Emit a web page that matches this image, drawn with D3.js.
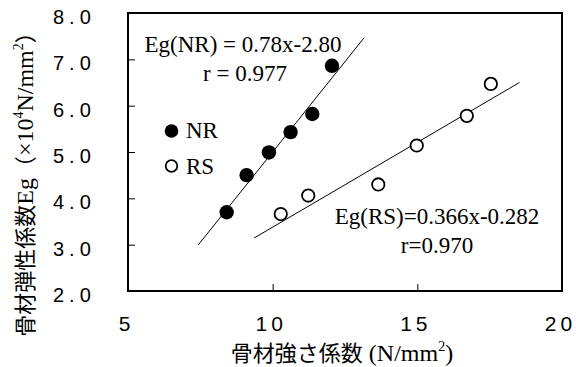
<!DOCTYPE html>
<html><head><meta charset="utf-8">
<script src="https://cdn.jsdelivr.net/npm/d3@7"></script>
<style>
html,body{margin:0;padding:0;background:#fff;}
svg{display:block;}
</style></head>
<body>
<script>
// ---- data ----
const nrX = [8.41, 9.10, 9.87, 10.62, 11.37, 12.05];
const nrY = [3.70, 4.50, 4.99, 5.43, 5.82, 6.86];
const rsX = [10.28, 11.23, 13.65, 14.98, 16.71, 17.54];
const rsY = [3.66, 4.06, 4.30, 5.14, 5.78, 6.47];
const fitNames = ["NR", "RS"];
const fitSlopes = [0.78, 0.366];
const fitIntercepts = [-2.80, -0.282];
const fitXStart = [7.43, 9.36];
const fitXEnd = [13.16, 18.53];
const xTicks = [5, 10, 15, 20];
const yTicks = [2, 3, 4, 5, 6, 7, 8];
const eqLabels = ["Eg(NR) = 0.78x-2.80", "Eg(RS)=0.366x-0.282"];
const rLabels = ["r = 0.977", "r=0.970"];
const legendLabels = ["NR", "RS"];

const W = 576, H = 367;
const svg = d3.select("body").append("svg").attr("width", W).attr("height", H);
const x = d3.scaleLinear().domain([5, 20]).range([128, 562]);
const y = d3.scaleLinear().domain([2, 8]).range([291, 13]);

const sans = "'Liberation Sans', Arial, sans-serif";
const serif = "'Liberation Serif', 'Times New Roman', serif";
const cjk = "'Noto Sans CJK JP', sans-serif";

// axes
const xAxis = d3.axisBottom(x).tickValues(xTicks).tickSize(-7).tickPadding(25).tickFormat(d3.format("d"));
const gx = svg.append("g").attr("transform", `translate(0,${y(2)})`).call(xAxis);
gx.select(".domain").remove();
gx.selectAll("line").attr("stroke", "#000").attr("stroke-width", 1);
gx.selectAll("text").attr("font-family", sans).attr("font-size", 21).attr("fill", "#000")
  .attr("letter-spacing", "4px").attr("dx", -2);

const yAxis = d3.axisLeft(y).tickValues(yTicks).tickSize(-7).tickFormat("");
const gy = svg.append("g").attr("transform", `translate(${x(5)},0)`).call(yAxis);
gy.select(".domain").remove();
gy.selectAll("line").attr("stroke", "#000").attr("stroke-width", 1);
svg.append("g").selectAll("text").data(yTicks).join("text")
  .attr("x", 53).attr("y", d => y(d) + 11)
  .attr("font-family", sans).attr("font-size", 20).attr("letter-spacing", "5px")
  .text(d => d3.format(".1f")(d));

// frame
svg.append("rect").attr("x", x(5)).attr("y", y(8)).attr("width", x(20) - x(5)).attr("height", y(2) - y(8))
  .attr("fill", "none").attr("stroke", "#000").attr("stroke-width", 2);

// fit lines
fitNames.forEach((n, i) => {
  const f = v => fitSlopes[i] * v + fitIntercepts[i];
  svg.append("line")
    .attr("x1", x(fitXStart[i])).attr("y1", y(f(fitXStart[i])))
    .attr("x2", x(fitXEnd[i])).attr("y2", y(f(fitXEnd[i])))
    .attr("stroke", "#000").attr("stroke-width", 1);
});

// points
svg.append("g").selectAll("circle").data(nrX.map((v, i) => [v, nrY[i]])).join("circle")
  .attr("cx", d => x(d[0])).attr("cy", d => y(d[1])).attr("r", 7.2).attr("fill", "#000");
svg.append("g").selectAll("circle").data(rsX.map((v, i) => [v, rsY[i]])).join("circle")
  .attr("cx", d => x(d[0])).attr("cy", d => y(d[1])).attr("r", 6.2)
  .attr("fill", "#fff").attr("stroke", "#000").attr("stroke-width", 1.8);

// legend
svg.append("circle").attr("cx", 171.5).attr("cy", 131).attr("r", 6.8).attr("fill", "#000");
svg.append("circle").attr("cx", 171.5).attr("cy", 166).attr("r", 5.8).attr("fill", "#fff")
  .attr("stroke", "#000").attr("stroke-width", 1.8);
svg.append("text").attr("x", 186).attr("y", 138).attr("font-family", serif).attr("font-size", 23).text(legendLabels[0]);
svg.append("text").attr("x", 186).attr("y", 174).attr("font-family", serif).attr("font-size", 23).text(legendLabels[1]);

// equations
svg.append("text").attr("x", 243).attr("y", 52).attr("text-anchor", "middle").attr("font-family", serif).attr("font-size", 23).text(eqLabels[0]);
svg.append("text").attr("x", 245).attr("y", 81).attr("text-anchor", "middle").attr("font-family", serif).attr("font-size", 23).text(rLabels[0]);
svg.append("text").attr("x", 437).attr("y", 224).attr("text-anchor", "middle").attr("font-family", serif).attr("font-size", 23).text(eqLabels[1]);
svg.append("text").attr("x", 437).attr("y", 253).attr("text-anchor", "middle").attr("font-family", serif).attr("font-size", 23).text(rLabels[1]);

// x title
const xt = svg.append("text").attr("x", 342).attr("y", 361).attr("text-anchor", "middle");
xt.append("tspan").attr("font-family", cjk).attr("font-size", 22).text("骨材強さ係数");
xt.append("tspan").attr("font-family", serif).attr("font-size", 24).text(" (N/mm");
xt.append("tspan").attr("font-family", serif).attr("font-size", 14).attr("dy", -10).text("2");
xt.append("tspan").attr("font-family", serif).attr("font-size", 24).attr("dy", 10).text(")");

// y title
const yt = svg.append("text").attr("transform", "translate(33,179) rotate(-90)").attr("text-anchor", "middle");
yt.append("tspan").attr("font-family", cjk).attr("font-size", 22).text("骨材弾性係数");
yt.append("tspan").attr("font-family", serif).attr("font-size", 24).text("Eg");
yt.append("tspan").attr("font-family", cjk).attr("font-size", 22).text("（");
yt.append("tspan").attr("font-family", serif).attr("font-size", 24).text("×10");
yt.append("tspan").attr("font-family", serif).attr("font-size", 14).attr("dy", -10).text("4");
yt.append("tspan").attr("font-family", serif).attr("font-size", 24).attr("dy", 10).text("N/mm");
yt.append("tspan").attr("font-family", serif).attr("font-size", 14).attr("dy", -10).text("2");
yt.append("tspan").attr("font-family", cjk).attr("font-size", 22).attr("dy", 10).text("）");
</script>
</body></html>
